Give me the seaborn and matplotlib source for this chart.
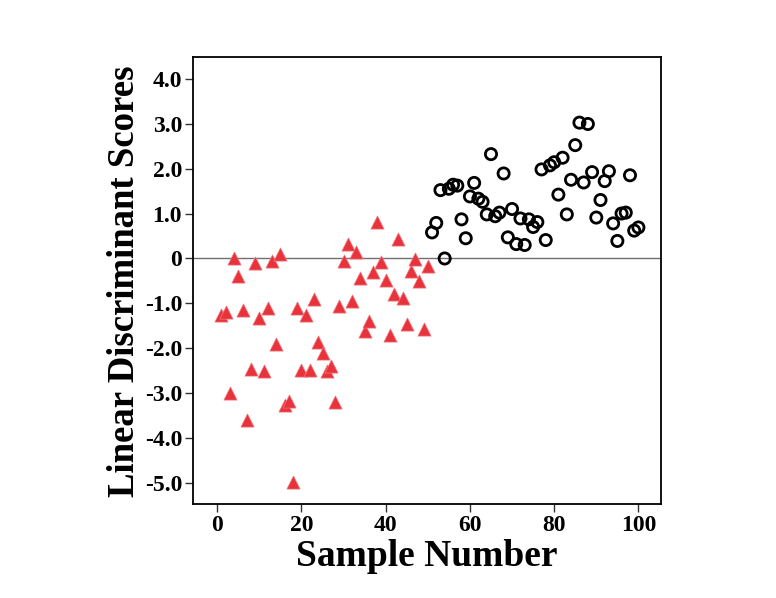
import numpy as np
import pandas as pd
import matplotlib
matplotlib.use("Agg")
import matplotlib.pyplot as plt
import seaborn as sns

# Scores, sample 1..100
group_a = [-1.25, -1.20, -3.00, 0.00, -0.40, -1.15, -3.60, -2.45, -0.10, -1.32,
           -2.50, -1.10, -0.05, -1.90, 0.10, -3.26, -3.16, -4.96, -1.10, -2.48,
           -1.25, -2.48, -0.90, -1.85, -2.10, -2.50, -2.40, -3.19, -1.05, -0.05,
           0.33, -0.95, 0.15, -0.43, -1.62, -1.39, -0.31, 0.81, -0.07, -0.48,
           -1.70, -0.78, 0.44, -0.87, -1.45, -0.27, -0.02, -0.50, -1.56, -0.16]
group_b = [0.58, 0.79, 1.52, 0.00, 1.55, 1.64, 1.62, 0.87, 0.45, 1.38,
           1.68, 1.33, 1.26, 0.98, 2.32, 0.94, 1.02, 1.89, 0.47, 1.10,
           0.32, 0.89, 0.30, 0.87, 0.70, 0.81, 1.98, 0.41, 2.07, 2.14,
           1.42, 2.24, 0.98, 1.75, 2.52, 3.02, 1.69, 2.99, 1.92, 0.91,
           1.30, 1.72, 1.94, 0.78, 0.39, 1.00, 1.02, 1.85, 0.62, 0.69]

yticks = [4, 3, 2, 1, 0, -1, -2, -3, -4, -5]
ytick_labels = ["4.0", "3.0", "2.0", "1.0", "0", "-1.0", "-2.0", "-3.0", "-4.0", "-5.0"]
xticks = [0, 20, 40, 60, 80, 100]

df_a = pd.DataFrame({"sample": np.arange(1, 51), "score": group_a})
df_b = pd.DataFrame({"sample": np.arange(51, 101), "score": group_b})

sns.set_style("white")
plt.rcParams["font.family"] = ["Liberation Serif", "DejaVu Serif"]
plt.rcParams["font.weight"] = "bold"
plt.rcParams["text.color"] = "black"
plt.rcParams["axes.labelcolor"] = "black"
plt.rcParams["xtick.color"] = "black"
plt.rcParams["ytick.color"] = "black"

fig = plt.figure(figsize=(7.76, 5.98), dpi=100)
ax = fig.add_axes([0.249, 0.157, 0.603, 0.747])

ax.axhline(0, color="#707070", lw=1.0, zorder=1)

sns.scatterplot(data=df_a, x="sample", y="score", marker="^", s=90,
                color="#e8333c", edgecolor="#f07a80", linewidth=0.5, ax=ax, zorder=3)
sns.scatterplot(data=df_b, x="sample", y="score", marker="o", s=65,
                facecolor="none", edgecolor="black", linewidth=2.0, ax=ax, zorder=3)

ax.set_xlim(-5.7, 105.4)
ax.set_ylim(-5.46, 4.47)
ax.set_xticks(xticks)
ax.set_xticklabels([str(t) for t in xticks], fontsize=17, fontweight="bold")
ax.set_yticks(yticks)
ax.set_yticklabels(ytick_labels, fontsize=17, fontweight="bold")
ax.tick_params(direction="out", length=6, width=1, color="#333333", pad=2,
               bottom=True, left=True)

for sp in ax.spines.values():
    sp.set_visible(True)
    sp.set_color("black")
    sp.set_linewidth(1.3)

ax.set_xlabel("Sample Number", fontsize=27, fontweight="bold", labelpad=2)
ax.set_ylabel("Linear Discriminant Scores", fontsize=26.5, fontweight="bold", labelpad=2)

fig.savefig("out.png", dpi=100)
